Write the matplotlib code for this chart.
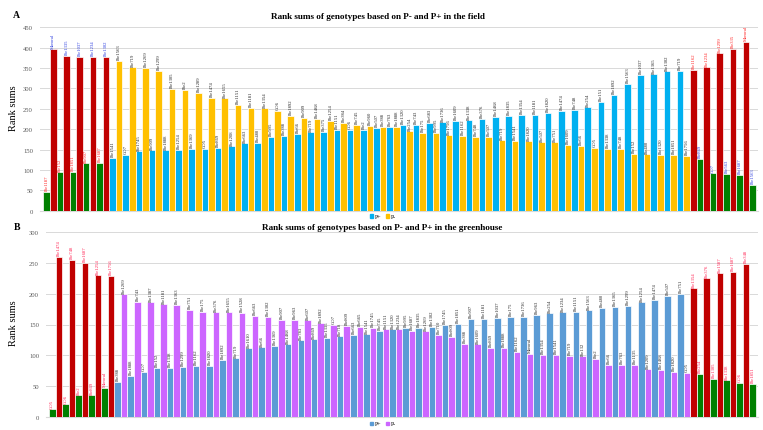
import matplotlib
matplotlib.use("Agg")
import matplotlib.pyplot as plt
from matplotlib.patches import Patch
import numpy as np

# ---- field (panel A) ----
field_pplus_names = ["ISe1187", "ISe152", "ISe1851", "ISe907", "ISe1687", "ISe1541", "CO7", "ISe1745", "ISe909", "ISe1888",
                     "ISe1254", "ISe1369", "CO5", "ISe869", "ISe1208", "ISe663", "ISe480", "ISe995", "ISe388", "ISe66",
                     "ISe719", "ISe375", "ISe1151", "CO6", "ISe2", "ISe507", "ISe763", "ISe1320", "ISe743", "ISe683",
                     "ISe1736", "ISe1609", "ISe1338", "ISe376", "ISe1468", "ISe1835", "ISe1354", "ISe1181", "ISe1820", "ISe1474",
                     "ISe748", "ISe254", "ISe151", "ISe1892", "ISe1563", "ISe1037", "ISe1365", "ISe1302", "ISe719", "ISe1162",
                     "ISe1234", "ISe1299", "ISe335", "Mororal"]
field_pplus = [47, 94, 96, 116, 118, 130, 137, 146, 148, 148,
               150, 151, 152, 155, 158, 165, 166, 181, 183, 189,
               192, 193, 198, 199, 199, 204, 205, 210, 210, 215,
               217, 220, 222, 226, 230, 233, 235, 236, 240, 245,
               247, 254, 267, 284, 311, 333, 335, 342, 343, 346,
               352, 386, 397, 415]
field_pminus_names = ["Mororal", "ISe1335", "ISe1037", "ISe1234", "ISe1302", "ISe1563", "ISe719", "ISe1269", "ISe1299", "ISe1305",
                      "ISe2", "ISe1289", "ISe1474", "ISe1655", "ISe1151", "ISe1181", "ISe1354", "CO6", "ISe1892", "ISe909",
                      "ISe1468", "ISe1254", "ISe384", "ISe745", "ISe960", "ISe388", "ISe1888", "ISe254", "ISe175", "ISe995",
                      "ISe1756", "ISe1162", "ISe748", "ISe507", "ISe719", "ISe1541", "ISe1820", "ISe507", "ISe751", "ISe1609",
                      "ISe66", "CO5", "ISe1338", "ISe748", "ISe152", "ISe480", "ISe1320", "ISe1851", "ISe1756", "ISe869",
                      "CO7", "ISe563", "ISe1687", "ISe1563"]
field_pminus = [396, 380, 378, 378, 377, 368, 352, 350, 344, 299,
                297, 289, 277, 276, 260, 252, 251, 245, 232, 228,
                225, 221, 215, 211, 208, 206, 205, 195, 191, 191,
                185, 183, 181, 181, 173, 171, 170, 168, 168, 161,
                159, 154, 151, 151, 140, 138, 137, 137, 135, 128,
                92, 91, 88, 63]

# ---- greenhouse (panel B) ----
green_pplus_names = ["CO5", "CO6", "ISe2", "ISe869", "Mororal", "ISe388", "ISe1888", "CO7", "ISe152", "ISe1338",
                     "ISe1299", "ISe1162", "ISe1820", "ISe1892", "ISe719", "ISe1610", "ISe66", "ISe1369", "ISe1468", "ISe783",
                     "ISe869", "ISe1335", "ISe718", "ISe663", "ISe1541", "ISe745", "ISe1320", "ISe995", "ISe1835", "ISe1302",
                     "ISe1745", "ISe1851", "ISe907", "ISe1181", "ISe1037", "ISe175", "ISe1736", "ISe963", "ISe254", "ISe1234",
                     "ISe1151", "ISe1563", "ISe480", "ISe1365", "ISe1299", "ISe1254", "ISe1474", "ISe507", "ISe751", "ISe1354",
                     "ISe376", "ISe1587", "ISe1687", "ISe348"]
green_pplus = [12, 20, 35, 35, 47, 57, 66, 73, 80, 80,
               81, 83, 83, 93, 95, 111, 113, 115, 118, 124,
               126, 128, 131, 133, 134, 140, 142, 145, 145, 146,
               149, 151, 159, 159, 161, 163, 163, 166, 168, 170,
               171, 173, 177, 179, 180, 186, 190, 197, 200, 209,
               225, 233, 236, 249]
green_pminus_names = ["ISe1474", "ISe748", "ISe1687", "ISe1254", "ISe1756", "ISe1269", "ISe743", "ISe1387", "ISe1181", "ISe1363",
                      "ISe751", "ISe175", "ISe376", "ISe1655", "ISe1528", "ISe663", "ISe1302", "ISe907", "ISe963", "ISe607",
                      "ISe1892", "CO7", "ISe809", "ISe665", "ISe1745", "ISe1151", "ISe1234", "ISe1687", "ISe1269", "ISe710",
                      "ISe809", "ISe388", "ISe1609", "ISe869", "ISe1888", "ISe1162", "Mororal", "ISe1354", "ISe1541", "ISe719",
                      "ISe132", "ISe2", "ISe66", "ISe763", "ISe1135", "ISe1209", "ISe1468", "ISe1820", "CO5", "ISe254",
                      "ISe1305", "ISe1338", "CO6", "ISe1851"]
green_pminus = [260, 255, 250, 230, 229, 199, 187, 186, 183, 182,
                174, 171, 170, 170, 169, 164, 162, 158, 158, 157,
                152, 150, 148, 146, 145, 142, 142, 140, 139, 133,
                130, 119, 118, 112, 112, 106, 102, 101, 101, 99,
                98, 94, 84, 84, 84, 77, 76, 73, 71, 70,
                62, 59, 55, 53]

W, H = 763, 431
RED = "#C00000"
GREEN = "#008000"
N_EDGE = 5  # highlighted categories at each end

plt.rcParams["font.family"] = ["Liberation Serif", "DejaVu Serif"]


def px_axes(fig, x0, y0, x1, y1):
    """axes from pixel box (top-left origin)"""
    return fig.add_axes([x0 / W, 1 - y1 / H, (x1 - x0) / W, (y1 - y0) / H])


def draw_panel(ax, pplus, pplus_names, pminus, pminus_names, c_plus, c_minus,
               ymax, xlim, lab_plus_hi, lab_minus_hi):
    n = len(pplus)
    x = np.arange(n)
    w = 0.5
    cols_p = [GREEN if i < N_EDGE else (RED if i >= n - N_EDGE else c_plus) for i in range(n)]
    cols_m = [RED if i < N_EDGE else (GREEN if i >= n - N_EDGE else c_minus) for i in range(n)]
    ax.bar(x - w / 2, pplus, w, color=cols_p, edgecolor="white", linewidth=0.5, zorder=3)
    ax.bar(x + w / 2, pminus, w, color=cols_m, edgecolor="white", linewidth=0.5, zorder=3)

    for i in range(n):
        if i < N_EDGE or i >= n - N_EDGE:
            cp, cm = lab_plus_hi, lab_minus_hi
        else:
            cp = cm = "#262626"
        ax.annotate(pplus_names[i], (x[i] - w / 2, pplus[i]), xytext=(0, 1.2), textcoords="offset points",
                    rotation=90, ha="center", va="bottom", fontsize=3.4, color=cp)
        ax.annotate(pminus_names[i], (x[i] + w / 2, pminus[i]), xytext=(0, 1.2), textcoords="offset points",
                    rotation=90, ha="center", va="bottom", fontsize=3.4, color=cm)

    ax.set_xlim(*xlim)
    ax.set_ylim(0, ymax)
    ax.set_yticks(range(0, ymax + 1, 50))
    ax.set_xticks([])
    ax.yaxis.grid(True, color="#D9D9D9", linewidth=0.7, zorder=0)
    for s in ["top", "right", "left"]:
        ax.spines[s].set_visible(False)
    ax.spines["bottom"].set_color("#D9D9D9")
    ax.tick_params(axis="y", length=0, labelsize=4.8, labelcolor="#595959", pad=5)
    ax.set_facecolor("none")


fig = plt.figure(figsize=(W / 100, H / 100), dpi=100)

# panel A -- highlighted bars: P+ labels red, P- labels blue
axA = px_axes(fig, 40, 28.3, 758, 211.7)
draw_panel(axA, field_pplus, field_pplus_names, field_pminus, field_pminus_names,
           "#00B0F0", "#FFC000", 450, ((40 - 49.9) / 13.2, (758 - 49.9) / 13.2),
           "#FF2020", "#2E3FE0")
fig.text(378 / W, 1 - 17 / H, "Rank sums of genotypes based on P- and P+ in the field",
         ha="center", va="center", fontsize=6.6, fontweight="bold")
fig.text(16 / W, 1 - 15 / H, "A", ha="center", va="center", fontsize=7, fontweight="bold")
fig.text(14 / W, 1 - 108 / H, "Rank sums", rotation=90, ha="center", va="center", fontsize=7.5)
fig.legend(handles=[Patch(color="#00B0F0", label="P+"), Patch(color="#FFC000", label="P-")],
           loc="center", bbox_to_anchor=(383 / W, 1 - 217.5 / H), ncol=2, frameon=False,
           fontsize=4.2, handlelength=0.6, handleheight=0.6, handletextpad=0.3, columnspacing=0.8,
           borderpad=0)

# panel B -- all highlighted labels red
axB = px_axes(fig, 46, 233.3, 758, 417.7)
draw_panel(axB, green_pplus, green_pplus_names, green_pminus, green_pminus_names,
           "#5B9BD5", "#CC66FF", 300, ((46 - 55.5) / 13.09, (758 - 55.5) / 13.09),
           "#FF2050", "#FF2050")
fig.text(382 / W, 1 - 228.5 / H, "Rank sums of genotypes based on P- and P+ in the greenhouse",
         ha="center", va="center", fontsize=6.6, fontweight="bold")
fig.text(17 / W, 1 - 228 / H, "B", ha="center", va="center", fontsize=7, fontweight="bold")
fig.text(14 / W, 1 - 323 / H, "Rank sums", rotation=90, ha="center", va="center", fontsize=7.5)
fig.legend(handles=[Patch(color="#5B9BD5", label="P+"), Patch(color="#CC66FF", label="P-")],
           loc="center", bbox_to_anchor=(383 / W, 1 - 425 / H), ncol=2, frameon=False,
           fontsize=4.2, handlelength=0.6, handleheight=0.6, handletextpad=0.3, columnspacing=0.8,
           borderpad=0)

fig.savefig("out.png", dpi=100)
